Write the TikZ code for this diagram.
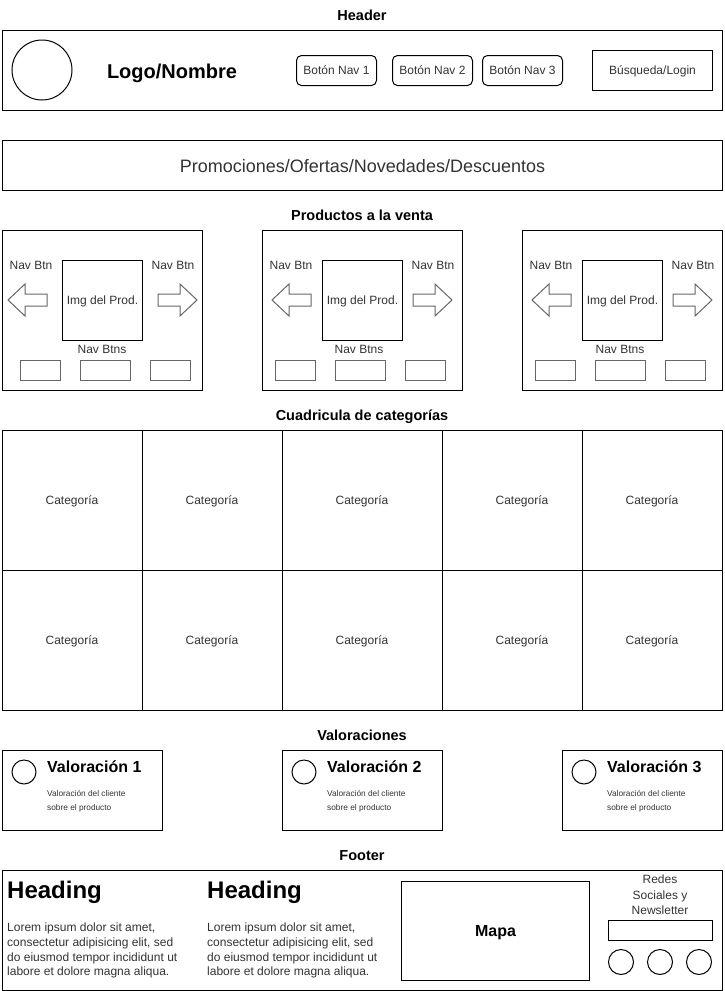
\documentclass[tikz,border=0pt]{standalone}
\usepackage{fontspec}
\setmainfont{Liberation Sans}
\newcommand\fsz[2]{\fontsize{#1pt}{#2pt}\selectfont}
\definecolor{txtgray}{HTML}{333333}
\definecolor{linegray}{HTML}{666666}
\begin{document}
\begin{tikzpicture}[x=1pt,y=-1pt,
  box/.style={draw=black,line width=1pt,inner sep=0pt,anchor=north west},
  ctext/.style={text height=#1,text depth=0pt},
  ctext/.default=8.6pt,
  rbox/.style={box,rounded corners=5pt},
  gbox/.style={draw=linegray,line width=1pt,inner sep=0pt,anchor=north west},
  garrow/.style={draw=linegray,line width=1pt,line join=miter},
  title/.style={inner sep=0pt,anchor=base,font=\fsz{14.5}{17}\bfseries},
  txt/.style={inner sep=0pt,text=txtgray,font=\fsz{12}{14.4}},
  small/.style={inner sep=0pt,text=txtgray,font=\fsz{8.3}{14},align=left},
  circ/.style={draw=black,line width=1pt,circle,inner sep=0pt}]
\useasboundingbox (0,0) rectangle (724,991);
\fill[white] (0,0) rectangle (724,991);

% ---------- Header ----------
\node[title] (thead) at (362,20) {Header};
\node[box,minimum width=720pt,minimum height=80pt] (header) at (2,30) {};
\node[circ,minimum size=60pt] (logo) at (42,70) {};
\node[inner sep=0pt,ctext=14.4pt,font=\fsz{20}{24}\bfseries] (logotxt) at (172,71) {Logo/Nombre};
\node[rbox,ctext,minimum width=80pt,minimum height=30pt,font=\fsz{12}{14},text=txtgray] (nav1) at (296,55) {Botón Nav 1};
\node[rbox,ctext,minimum width=80pt,minimum height=30pt,font=\fsz{12}{14},text=txtgray] (nav2) at (392,55) {Botón Nav 2};
\node[rbox,ctext,minimum width=80pt,minimum height=30pt,font=\fsz{12}{14},text=txtgray] (nav3) at (482,55) {Botón Nav 3};
\node[box,ctext,minimum width=120pt,minimum height=40pt,font=\fsz{12}{14},text=txtgray] (search) at (592,50) {Búsqueda/Login};

% ---------- Promociones ----------
\node[box,ctext=13pt,minimum width=720pt,minimum height=50pt,font=\fsz{18}{21},text=txtgray] (promo) at (2,140) {Promociones/Ofertas/Novedades/Descuentos};

% ---------- Productos ----------
\node[title] (tprod) at (362,220) {Productos a la venta};
\foreach \o/\la/\ra/\bo/\nb [count=\i] in {0/6/195/18/100, 260/10/190/13/97, 520/10/190/13/98} {
  \node[box,minimum width=200pt,minimum height=160pt] (pb\i) at (2+\o,230) {};
  \node[txt] (nl\i) at (31+\o,265) {Nav Btn};
  \node[txt] (nr\i) at (173+\o,265) {Nav Btn};
  \node[box,ctext,minimum width=80pt,minimum height=80pt,font=\fsz{12}{14},text=txtgray] (img\i) at (62+\o,260) {Img del Prod.};
  \node[txt] (nb\i) at (2+\o+\nb,349) {Nav Btns};
  \node[gbox,minimum width=40pt,minimum height=20pt] (ba\i) at (2+\o+\bo,360) {};
  \node[gbox,minimum width=50pt,minimum height=20pt] (bb\i) at (62+\o+\bo,360) {};
  \node[gbox,minimum width=40pt,minimum height=20pt] (bc\i) at (132+\o+\bo,360) {};
  \draw[garrow] (2+\o+\la,300) -- (19+\o+\la,284) -- (19+\o+\la,294) -- (41+\o+\la,294) -- (41+\o+\la,306) -- (19+\o+\la,306) -- (19+\o+\la,316) -- cycle;
  \draw[garrow] (2+\o+\ra,300) -- (\o+\ra-15,284) -- (\o+\ra-15,294) -- (\o+\ra-37,294) -- (\o+\ra-37,306) -- (\o+\ra-15,306) -- (\o+\ra-15,316) -- cycle;
}

% ---------- Categorias ----------
\node[title] (tcat) at (362,420) {Cuadricula de categorías};
\foreach \xa/\xb/\tx [count=\c] in {2/142/72,142/282/212,282/442/362,442/582/522,582/722/652} {
  \foreach \ya [count=\r] in {430,570} {
    \node[box,minimum width={\xb-\xa},minimum height=140pt] (cat\c-\r) at (\xa,\ya) {};
    \node[txt,ctext] (ct\c-\r) at (\tx,\ya+70) {Categoría};
  }
}

% ---------- Valoraciones ----------
\node[title] (tval) at (362,740) {Valoraciones};
\foreach \o [count=\i] in {0,280,560} {
  \node[box,minimum width=160pt,minimum height=80pt] (vb\i) at (2+\o,750) {};
  \node[circ,minimum size=24pt] (vc\i) at (24+\o,772) {};
  \node[inner sep=0pt,anchor=base west,font=\fsz{16}{19}\bfseries] (vt\i) at (47+\o,772) {Valoración \i};
  \node[small,anchor=base west] (vs\i) at (47+\o,810) {Valoración del cliente\\sobre el producto};
}

% ---------- Footer ----------
\node[title] (tfoot) at (362,860) {Footer};
\node[box,minimum width=720pt,minimum height=120pt] (footer) at (2,870) {};
\node[inner sep=0pt,anchor=base west,font=\fsz{24}{28}\bfseries] (h1) at (7,898) {Heading};
\node[inner sep=0pt,anchor=base west,font=\fsz{24}{28}\bfseries] (h2) at (207,898) {Heading};
\node[inner sep=0pt,anchor=north west,align=left,text=txtgray,font=\fsz{12}{14.8}] (l1) at (7,922.5) {Lorem ipsum dolor sit amet,\\consectetur adipisicing elit, sed\\do eiusmod tempor incididunt ut\\labore et dolore magna aliqua.};
\node[inner sep=0pt,anchor=north west,align=left,text=txtgray,font=\fsz{12}{14.8}] (l2) at (207,922.5) {Lorem ipsum dolor sit amet,\\consectetur adipisicing elit, sed\\do eiusmod tempor incididunt ut\\labore et dolore magna aliqua.};
\node[box,ctext=11.5pt,minimum width=188pt,minimum height=99pt,font=\fsz{16}{19}\bfseries] (mapa) at (401,881) {Mapa};
\node[inner sep=0pt,align=center,text=txtgray,font=\fsz{12}{15.5}] (redes) at (660,895) {Redes\\Sociales y\\Newsletter};
\node[box,minimum width=104pt,minimum height=20pt] (news) at (608,920) {};
\node[circ,minimum size=25pt] (s1) at (621,962) {};
\node[circ,minimum size=25pt] (s2) at (660,962) {};
\node[circ,minimum size=25pt] (s3) at (699,962) {};
\end{tikzpicture}
\end{document}
